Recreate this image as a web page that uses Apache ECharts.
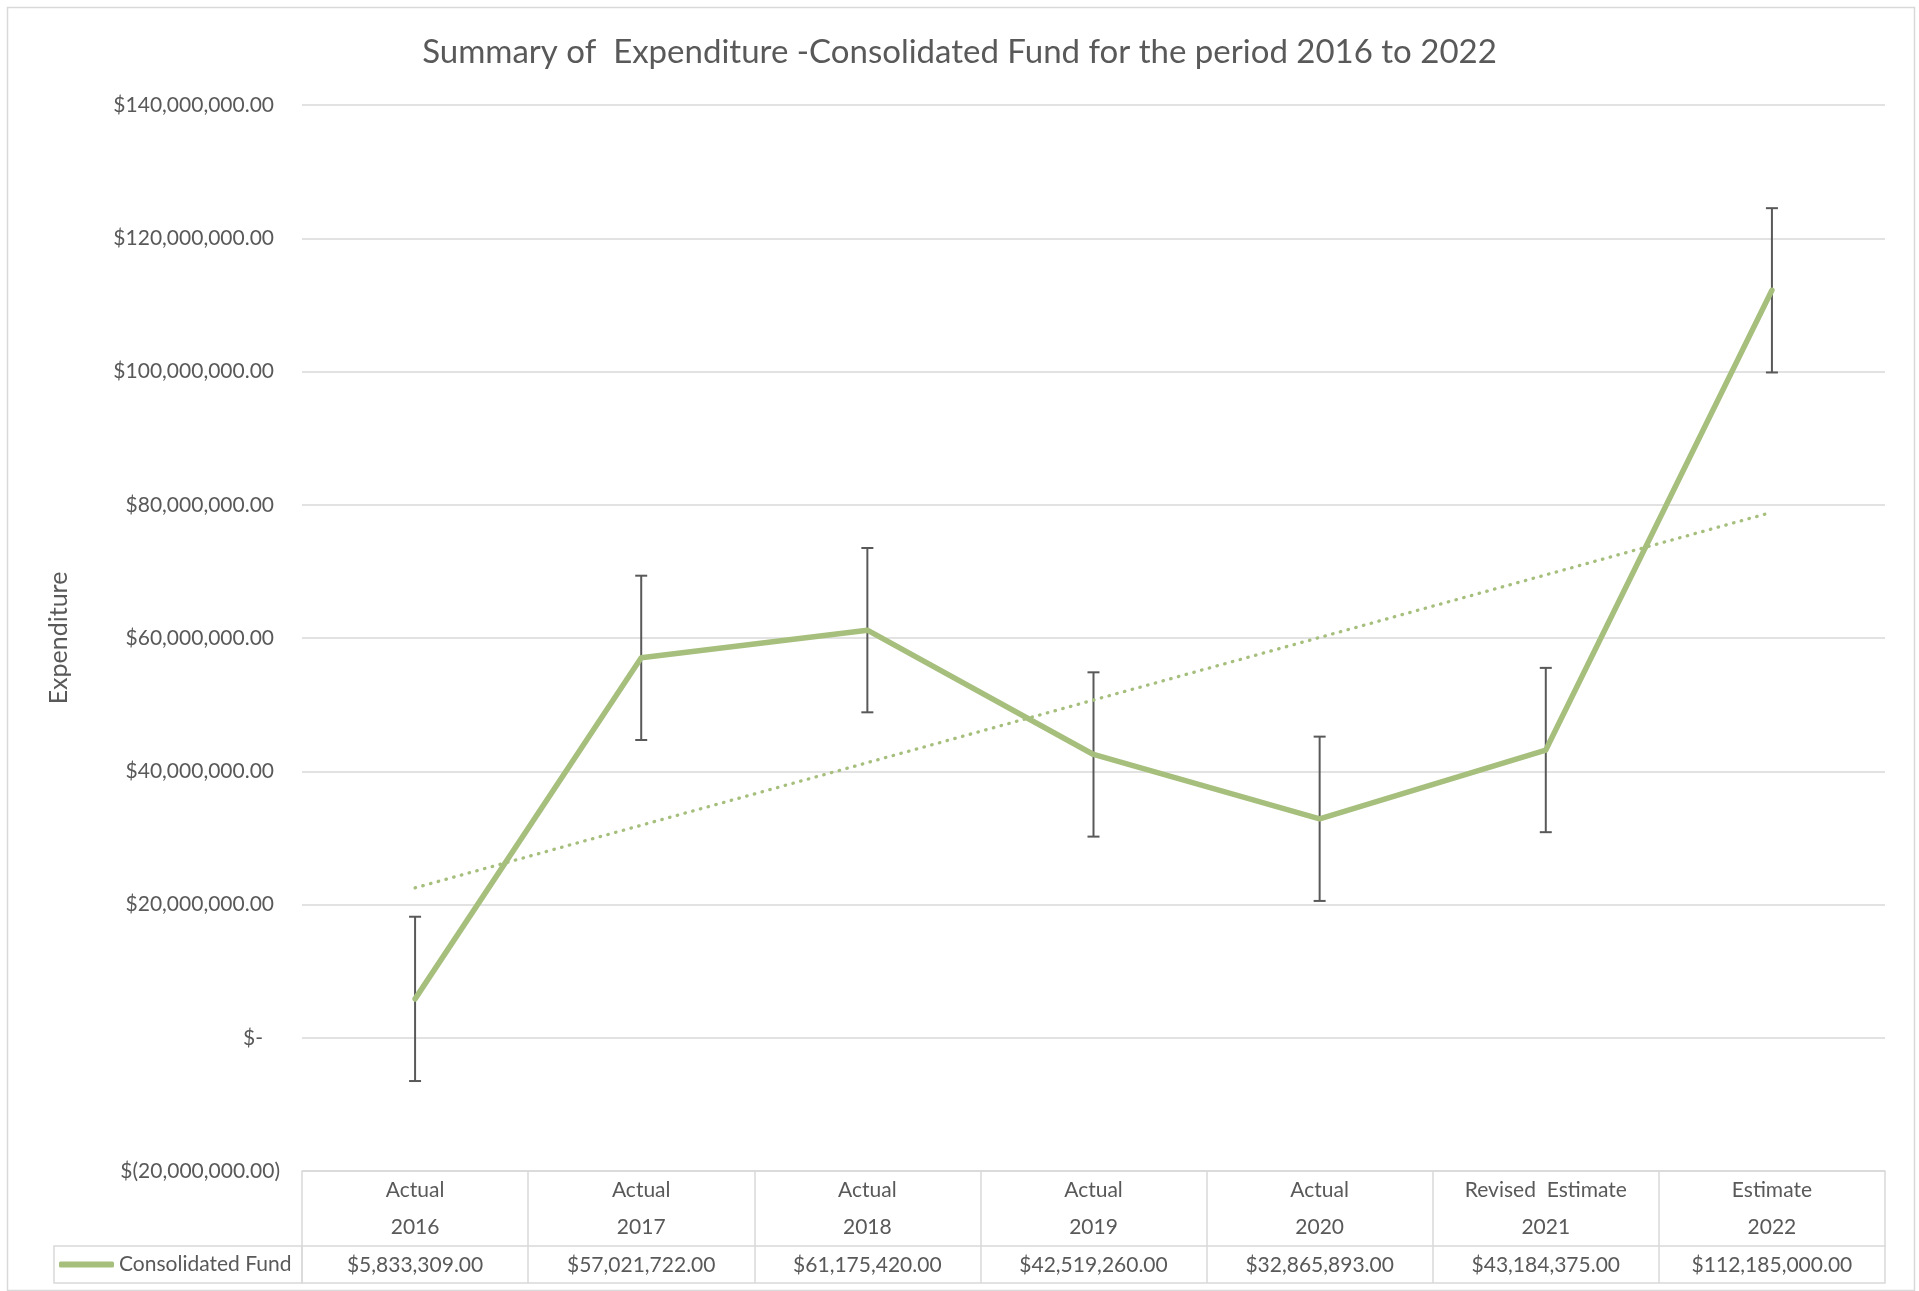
<!DOCTYPE html>
<html>
<head>
<meta charset="utf-8">
<script src="https://cdn.jsdelivr.net/npm/echarts@6/dist/echarts.min.js"></script>
<style>
  html, body { margin: 0; padding: 0; background: #ffffff; }
  #chart { width: 1919px; height: 1291px; }
</style>
</head>
<body>
<div id="chart"></div>
<script>
// Period headings and years shown in the data table under the plot
const periodTypes = ['Actual', 'Actual', 'Actual', 'Actual', 'Actual', 'Revised  Estimate', 'Estimate'];
const years = ['2016', '2017', '2018', '2019', '2020', '2021', '2022'];

// Consolidated Fund expenditure per period (dollars)
const consolidatedFund = [5833309, 57021722, 61175420, 42519260, 32865893, 43184375, 112185000];

// Error bar half-height (standard error) and linear trend end values
const errorMargin = 12330000;
const trendStart = 22500000;
const trendEnd = 78870000;

// Value axis range and step
const yMin = -20000000;
const yMax = 140000000;
const yStep = 20000000;

const TEXT = '#595959';
const RULE = '#d9d9d9';
const GREEN = '#a6bf7d';
const FONT = 'Lato, "Open Sans", sans-serif';

const categories = periodTypes.map((t, i) => t + '\n' + years[i]);

function money(v) {
  if (v === 0) return '$-';
  const s = Math.abs(v).toLocaleString('en-US', { minimumFractionDigits: 2, maximumFractionDigits: 2 });
  return v < 0 ? '$(' + s + ')' : '$' + s;
}

// Straight trend: only the two ends are given, the line joins them
const trendData = categories.map(() => null);
trendData[0] = trendStart;
trendData[trendData.length - 1] = trendEnd;

const chart = echarts.init(document.getElementById('chart'), null, { renderer: 'canvas' });

chart.setOption({
  backgroundColor: '#ffffff',
  animation: false,
  textStyle: { fontFamily: FONT, color: TEXT },
  title: {
    text: 'Summary of  Expenditure -Consolidated Fund for the period 2016 to 2022',
    left: 'center',
    top: 27,
    textStyle: { fontFamily: FONT, fontSize: 33, fontWeight: 'normal', color: TEXT, lineHeight: 40 }
  },
  legend: {
    data: ['Consolidated Fund'],
    left: 59,
    top: 1254,
    padding: 0,
    icon: 'roundRect',
    itemWidth: 55,
    itemHeight: 6,
    itemGap: 5,
    textStyle: { fontFamily: FONT, fontSize: 21, color: TEXT }
  },
  grid: { left: 302, right: 34, top: 105, bottom: 120, containLabel: false },
  xAxis: [
    {
      type: 'category',
      data: categories,
      position: 'bottom',
      boundaryGap: true,
      axisLine: { show: true, onZero: false, lineStyle: { color: RULE, width: 1.5 } },
      axisTick: { show: true, interval: 0, length: 112, lineStyle: { color: RULE, width: 1.5 } },
      axisLabel: { interval: 0, margin: 1, fontFamily: FONT, fontSize: 21, lineHeight: 37, color: TEXT },
      splitLine: { show: false }
    },
    {
      type: 'category',
      data: consolidatedFund.map(money),
      position: 'bottom',
      offset: 75,
      boundaryGap: true,
      axisLine: { show: true, onZero: false, lineStyle: { color: RULE, width: 1.5 } },
      axisTick: { show: false },
      axisLabel: { interval: 0, margin: 8, fontFamily: FONT, fontSize: 21, lineHeight: 22, color: TEXT },
      splitLine: { show: false }
    },
    {
      type: 'category',
      data: categories,
      position: 'bottom',
      offset: 112,
      axisLine: { show: true, onZero: false, lineStyle: { color: RULE, width: 1.5 } },
      axisTick: { show: false },
      axisLabel: { show: false },
      splitLine: { show: false }
    }
  ],
  yAxis: {
    type: 'value',
    min: yMin,
    max: yMax,
    interval: yStep,
    name: 'Expenditure',
    nameLocation: 'middle',
    nameRotate: 90,
    nameGap: 231,
    nameTextStyle: { fontFamily: FONT, fontSize: 25, color: TEXT },
    axisLine: { show: false },
    axisTick: { show: false },
    splitLine: { show: true, lineStyle: { color: RULE, width: 1.5 } },
    axisLabel: {
      margin: 22,
      fontFamily: FONT,
      fontSize: 21,
      color: TEXT,
      formatter: function (v) {
        if (v > 0) return '{p|' + money(v) + '}';
        if (v === 0) return '{z|' + money(v) + '}';
        return money(v);
      },
      rich: {
        p: { fontFamily: FONT, fontSize: 21, color: TEXT, padding: [0, 6, 0, 0] },
        z: { fontFamily: FONT, fontSize: 21, color: TEXT, padding: [0, 17, 0, 0] }
      }
    }
  },
  graphic: [
    {
      type: 'rect',
      silent: true,
      shape: { x: 7.5, y: 7.5, width: 1907, height: 1283 },
      style: { fill: 'none', stroke: RULE, lineWidth: 1.5 },
      z: -10
    },
    {
      type: 'rect',
      silent: true,
      shape: { x: 54, y: 1246, width: 248, height: 37 },
      style: { fill: 'none', stroke: RULE, lineWidth: 1.5 },
      z: 1
    }
  ],
  series: [
    {
      name: 'Standard error',
      type: 'custom',
      z: 2,
      data: consolidatedFund.map((v, i) => [i, v]),
      renderItem: function (params, api) {
        const i = api.value(0);
        const v = api.value(1);
        const top = api.coord([i, v + errorMargin]);
        const bot = api.coord([i, v - errorMargin]);
        const cap = 6;
        const st = { stroke: TEXT, lineWidth: 2 };
        return {
          type: 'group',
          children: [
            { type: 'line', shape: { x1: top[0], y1: top[1], x2: bot[0], y2: bot[1] }, style: st },
            { type: 'line', shape: { x1: top[0] - cap, y1: top[1], x2: top[0] + cap, y2: top[1] }, style: st },
            { type: 'line', shape: { x1: bot[0] - cap, y1: bot[1], x2: bot[0] + cap, y2: bot[1] }, style: st }
          ]
        };
      }
    },
    {
      name: 'Linear (Consolidated Fund)',
      type: 'line',
      z: 3,
      data: trendData,
      connectNulls: true,
      showSymbol: false,
      symbol: 'none',
      lineStyle: { color: GREEN, width: 3.3, type: [0.5, 7.5], cap: 'round' }
    },
    {
      name: 'Consolidated Fund',
      type: 'line',
      z: 4,
      data: consolidatedFund,
      showSymbol: false,
      symbol: 'none',
      itemStyle: { color: GREEN },
      lineStyle: { color: GREEN, width: 5.5, cap: 'round', join: 'round' }
    }
  ]
});
</script>
</body>
</html>
